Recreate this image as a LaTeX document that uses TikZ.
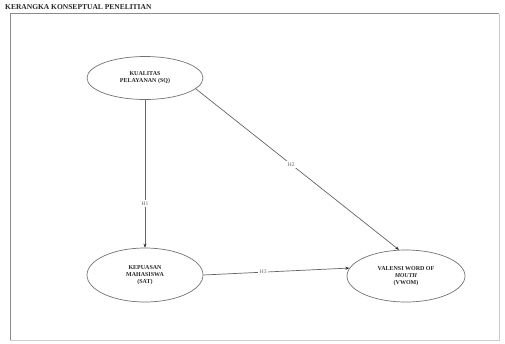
\documentclass[tikz,border=0pt]{standalone}
\usepackage{fontspec}
\setmainfont{Liberation Serif}
\usetikzlibrary{shapes.geometric,arrows.meta}
\tikzset{
  var/.style={ellipse, draw=black!55, line width=0.7pt, inner sep=0pt, align=center,
    font=\fontsize{6}{7}\selectfont\bfseries, text=black!85},
  conn/.style={draw=black!60, line width=0.7pt, -{Stealth[length=4pt,width=3pt,black!85]}},
  hlab/.style={fill=white, inner sep=1.5pt, font=\fontsize{5.5}{6.5}\selectfont, text=black!60},
}
\begin{document}
\begin{tikzpicture}[x=1pt,y=-1pt]
\useasboundingbox (0,0) rectangle (505,343);
\fill[white] (0,0) rectangle (505,343);
\node[anchor=west, inner sep=0pt, font=\fontsize{7.5}{8}\selectfont\bfseries, text=black!85] (title) at (5,7.5) {KERANGKA KONSEPTUAL PENELITIAN};
\draw[black!45, line width=0.7pt] (10,340) -- (10,13.5) -- (499,13.5);
\draw[black!20, line width=0.6pt] (499,13.5) -- (499,340) -- (10,340);
\node[var, minimum width=116pt, minimum height=43pt] (sq) at (145,78) {KUALITAS\\PELAYANAN (SQ)};
\node[var, minimum width=116pt, minimum height=54pt] (sat) at (145,275) {KEPUASAN\\MAHASISWA\\(SAT)};
\node[var, minimum width=118pt, minimum height=52pt] (vwom) at (406,276) {VALENSI WORD OF\\\textit{MOUTH}\\(VWOM)};
\draw[conn] (sq.south) -- node[hlab, pos=0.7] {H1} (sat.north);
\draw[conn] (sq.-12) -- node[hlab, pos=0.47] {H2} (vwom.105);
\draw[conn] (sat.east) -- node[hlab, pos=0.41] {H3} (vwom.172);
\end{tikzpicture}
\end{document}
